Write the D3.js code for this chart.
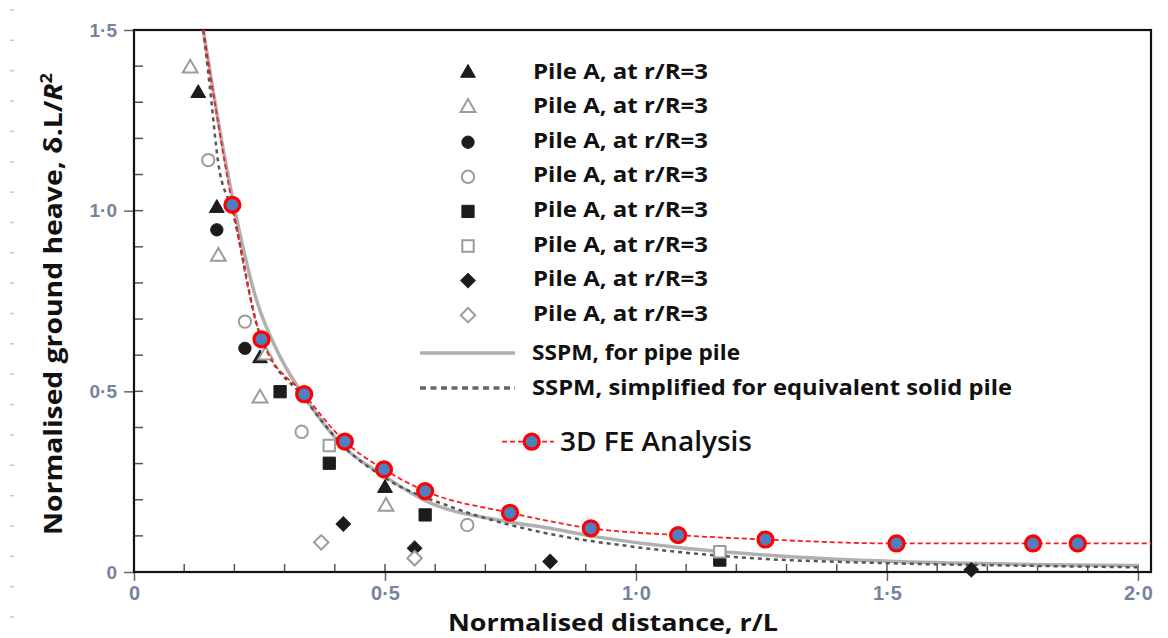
<!DOCTYPE html>
<html>
<head>
<meta charset="utf-8">
<script src="https://cdn.jsdelivr.net/npm/d3@7"></script>
<style>
  html, body { margin: 0; padding: 0; background: #fff; }
  svg { display: block; }
</style>
</head>
<body>
<svg id="chart" width="1168" height="638"></svg>
<script>
// ---- data ----
const xTicks = [0, 0.5, 1.0, 1.5, 2.0];
const xTickLabels = ["0", "0·5", "1·0", "1·5", "2·0"];
const yTicks = [0, 0.5, 1.0, 1.5];
const yTickLabels = ["0", "0·5", "1·0", "1·5"];

// 3D FE analysis (markers)
const feX = [0.196, 0.254, 0.339, 0.420, 0.498, 0.580, 0.749, 0.910, 1.084, 1.258, 1.519, 1.791, 1.880];
const feY = [1.016, 0.644, 0.492, 0.361, 0.284, 0.224, 0.164, 0.121, 0.102, 0.090, 0.079, 0.079, 0.079];
// the dashed FE curve runs on past the markers to the frame
const feLineX = [0.138, 0.196, 0.254, 0.339, 0.420, 0.498, 0.580, 0.749, 0.910, 1.084, 1.258, 1.519, 1.791, 1.880, 2.026];
const feLineY = [1.5, 1.016, 0.644, 0.492, 0.361, 0.284, 0.224, 0.164, 0.121, 0.102, 0.090, 0.079, 0.079, 0.079, 0.079];

// SSPM, pipe pile (solid grey)
const pipeX = [0.138, 0.178, 0.244, 0.291, 0.344, 0.417, 0.496, 0.578, 0.747, 0.829, 0.910, 1.084, 1.258, 1.519, 2.0];
const pipeY = [1.5, 1.168, 0.753, 0.596, 0.476, 0.347, 0.268, 0.199, 0.139, 0.121, 0.100, 0.068, 0.047, 0.029, 0.018];

// SSPM, simplified for equivalent solid pile (dotted)
const solidX = [0.138, 0.151, 0.168, 0.196, 0.250, 0.340, 0.420, 0.500, 0.630, 0.805, 0.994, 1.193, 1.512, 1.790, 2.0];
const solidY = [1.5, 1.343, 1.131, 1.000, 0.660, 0.480, 0.345, 0.260, 0.181, 0.112, 0.070, 0.042, 0.024, 0.017, 0.013];

// measured points, 8 series
const triFilled = [[0.128, 1.325], [0.165, 1.007], [0.251, 0.591], [0.500, 0.232]];
const triOpen = [[0.112, 1.394], [0.168, 0.873], [0.262, 0.600], [0.251, 0.481], [0.502, 0.181]];
const cirFilled = [[0.165, 0.947], [0.221, 0.619]];
const cirOpen = [[0.148, 1.140], [0.221, 0.693], [0.334, 0.388], [0.664, 0.130]];
const sqFilled = [[0.291, 0.499], [0.389, 0.301], [0.580, 0.158], [1.167, 0.033]];
const sqOpen = [[0.389, 0.350], [1.167, 0.056]];
const diaFilled = [[0.417, 0.133], [0.559, 0.066], [0.829, 0.029], [1.668, 0.006]];
const diaOpen = [[0.373, 0.082], [0.559, 0.038]];

const pileLabels = ["Pile A, at r/R=3", "Pile A, at r/R=3", "Pile A, at r/R=3", "Pile A, at r/R=3",
                    "Pile A, at r/R=3", "Pile A, at r/R=3", "Pile A, at r/R=3", "Pile A, at r/R=3"];
const lineLabels = ["SSPM, for pipe pile", "SSPM, simplified for equivalent solid pile"];
const feLabel = "3D FE Analysis";

// ---- layout ----
const svg = d3.select("#chart");
const plotL = 134, plotR = 1151, plotT = 30, plotB = 572;
const x = d3.scaleLinear().domain([0, 2.026]).range([plotL, plotR]);
const y = d3.scaleLinear().domain([0, 1.5]).range([plotB, plotT]);

const textFont = "'Open Sans', 'DejaVu Sans', sans-serif";
const tickFont = "'Liberation Sans', Arial, sans-serif";
const tickColor = "#7683a0";

// faint ruler marks on the far left of the scan
svg.append("g").selectAll("line")
  .data(d3.range(10, 630, 30.35))
  .enter().append("line")
  .attr("x1", 10).attr("x2", 14)
  .attr("y1", d => d).attr("y2", d => d)
  .attr("stroke", "#c8c8c8").attr("stroke-width", 1.5);

// minor ticks (inside)
const minorX = d3.range(0, 2.01, 0.1);
const minorY = d3.range(0, 1.51, 0.1);
svg.append("g").selectAll("line")
  .data(minorX)
  .enter().append("line")
  .attr("x1", d => x(d)).attr("x2", d => x(d))
  .attr("y1", plotB).attr("y2", plotB - 8)
  .attr("stroke", "#555").attr("stroke-width", 1.5);
svg.append("g").selectAll("line")
  .data(minorY)
  .enter().append("line")
  .attr("x1", plotL).attr("x2", plotL + 9)
  .attr("y1", d => y(d)).attr("y2", d => y(d))
  .attr("stroke", "#555").attr("stroke-width", 1.5);

// x axis with outward major ticks
const xAxis = svg.append("g")
  .attr("transform", "translate(0," + plotB + ")")
  .call(d3.axisBottom(x).tickValues(xTicks).tickSize(9).tickPadding(4)
        .tickFormat((d, i) => xTickLabels[i]));
xAxis.select(".domain").remove();
xAxis.selectAll(".tick line").attr("stroke", "#666").attr("stroke-width", 1.5);
xAxis.selectAll(".tick text")
  .attr("font-family", tickFont).attr("font-weight", 700).attr("font-size", 20)
  .attr("fill", tickColor).attr("dy", "0.74em");

const yAxis = svg.append("g")
  .attr("transform", "translate(" + plotL + ",0)")
  .call(d3.axisLeft(y).tickValues(yTicks).tickSize(10).tickPadding(7)
        .tickFormat((d, i) => yTickLabels[i]));
yAxis.select(".domain").remove();
yAxis.selectAll(".tick line").attr("stroke", "#666").attr("stroke-width", 1.5);
yAxis.selectAll(".tick text")
  .attr("font-family", tickFont).attr("font-weight", 700).attr("font-size", 19)
  .attr("fill", tickColor);

// frame
svg.append("rect")
  .attr("x", plotL).attr("y", plotT)
  .attr("width", plotR - plotL).attr("height", plotB - plotT)
  .attr("fill", "none").attr("stroke", "#111").attr("stroke-width", 2.2);

// curves
const line = d3.line().x(d => x(d[0])).y(d => y(d[1])).curve(d3.curveMonotoneX);

svg.append("path")
  .datum(d3.zip(pipeX, pipeY))
  .attr("d", line)
  .attr("fill", "none").attr("stroke", "#b0b0b0").attr("stroke-width", 3.5);

svg.append("path")
  .datum(d3.zip(solidX, solidY))
  .attr("d", line)
  .attr("fill", "none").attr("stroke", "#555").attr("stroke-width", 2.5)
  .attr("stroke-dasharray", "4,4");

// measured points
const filledCol = "#1c1c1c", openCol = "#9c9c9c";
const series = [
  { pts: triFilled, type: d3.symbolTriangle, size: 95, filled: true, rot: 0 },
  { pts: triOpen, type: d3.symbolTriangle, size: 95, filled: false, rot: 0 },
  { pts: cirFilled, type: d3.symbolCircle, size: 120, filled: true, rot: 0 },
  { pts: cirOpen, type: d3.symbolCircle, size: 120, filled: false, rot: 0 },
  { pts: sqFilled, type: d3.symbolSquare, size: 150, filled: true, rot: 0 },
  { pts: sqOpen, type: d3.symbolSquare, size: 130, filled: false, rot: 0 },
  { pts: diaFilled, type: d3.symbolSquare, size: 105, filled: true, rot: 45 },
  { pts: diaOpen, type: d3.symbolSquare, size: 105, filled: false, rot: 45 }
];

function drawMarker(g, s, cx, cy) {
  g.append("path")
    .attr("d", d3.symbol().type(s.type).size(s.size)())
    .attr("transform", "translate(" + cx + "," + cy + ") rotate(" + s.rot + ")")
    .attr("fill", s.filled ? filledCol : "#fff")
    .attr("stroke", s.filled ? filledCol : openCol)
    .attr("stroke-width", s.filled ? 1 : 2);
}

const ptsG = svg.append("g");
series.forEach(s => {
  s.pts.forEach(p => drawMarker(ptsG, s, x(p[0]), y(p[1])));
});

// FE dashed curve and markers
svg.append("path")
  .datum(d3.zip(feLineX, feLineY))
  .attr("d", line)
  .attr("fill", "none").attr("stroke", "#ff1a1a").attr("stroke-width", 1.8)
  .attr("stroke-dasharray", "5,3");

svg.append("g").selectAll("circle")
  .data(d3.zip(feX, feY))
  .enter().append("circle")
  .attr("cx", d => x(d[0])).attr("cy", d => y(d[1]))
  .attr("r", 7.5)
  .attr("fill", "#4f7fbf").attr("stroke", "#ff0000").attr("stroke-width", 3.2);

// legend
const leg = svg.append("g");
pileLabels.forEach((lab, i) => {
  const cy = 73 + i * 34.6;
  drawMarker(leg, series[i], 468, cy);
  leg.append("text")
    .attr("x", 533).attr("y", cy + 5.5)
    .attr("font-family", textFont).attr("font-weight", 700).attr("font-size", 22)
    .attr("textLength", 175).attr("lengthAdjust", "spacingAndGlyphs")
    .attr("fill", "#111").text(lab);
});

leg.append("line")
  .attr("x1", 420).attr("x2", 515).attr("y1", 353).attr("y2", 353)
  .attr("stroke", "#b0b0b0").attr("stroke-width", 3.5);
leg.append("line")
  .attr("x1", 420).attr("x2", 515).attr("y1", 388).attr("y2", 388)
  .attr("stroke", "#666").attr("stroke-width", 3.5).attr("stroke-dasharray", "6,4.5");
leg.append("text")
  .attr("x", 532).attr("y", 360)
  .attr("font-family", textFont).attr("font-weight", 700).attr("font-size", 22)
  .attr("textLength", 208).attr("lengthAdjust", "spacingAndGlyphs")
  .attr("fill", "#111").text(lineLabels[0]);
leg.append("text")
  .attr("x", 532).attr("y", 395)
  .attr("font-family", textFont).attr("font-weight", 700).attr("font-size", 22)
  .attr("textLength", 480).attr("lengthAdjust", "spacingAndGlyphs")
  .attr("fill", "#111").text(lineLabels[1]);

leg.append("line")
  .attr("x1", 502).attr("x2", 554).attr("y1", 441.7).attr("y2", 441.7)
  .attr("stroke", "#ff1a1a").attr("stroke-width", 1.8).attr("stroke-dasharray", "5,3");
leg.append("circle")
  .attr("cx", 531.7).attr("cy", 441.7).attr("r", 7.5)
  .attr("fill", "#4f7fbf").attr("stroke", "#ff0000").attr("stroke-width", 3.2);
leg.append("text")
  .attr("x", 560).attr("y", 451)
  .attr("font-family", textFont).attr("font-weight", 600).attr("font-size", 27)
  .attr("textLength", 192).attr("lengthAdjust", "spacingAndGlyphs")
  .attr("fill", "#111").text(feLabel);

// axis titles
svg.append("text")
  .attr("x", 613).attr("y", 631)
  .attr("text-anchor", "middle")
  .attr("font-family", textFont).attr("font-weight", 700).attr("font-size", 24)
  .attr("textLength", 330).attr("lengthAdjust", "spacingAndGlyphs")
  .attr("fill", "#111").text("Normalised distance, r/L");

const yt = svg.append("text")
  .attr("transform", "translate(62,304) rotate(-90)")
  .attr("text-anchor", "middle")
  .attr("font-family", textFont).attr("font-weight", 700).attr("font-size", 25)
  .attr("textLength", 462).attr("lengthAdjust", "spacingAndGlyphs")
  .attr("fill", "#111");
yt.append("tspan").text("Normalised ground heave, δ.L/");
yt.append("tspan").attr("font-style", "italic").text("R");
yt.append("tspan").attr("dy", -10).attr("font-size", 16).text("2");
</script>
</body>
</html>
